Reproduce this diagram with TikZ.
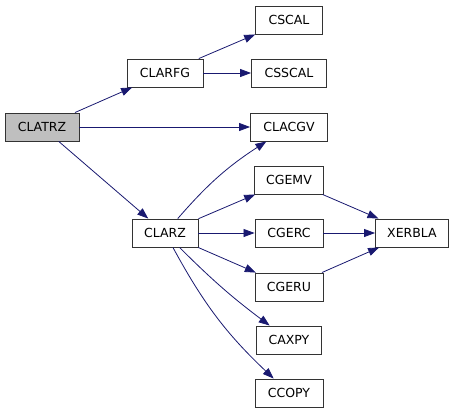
\documentclass[tikz,border=0pt]{standalone}
\usepackage{fontspec}
\setmainfont{DejaVu Sans}
\usetikzlibrary{arrows.meta}
\definecolor{edgeblue}{RGB}{25,25,112}
\definecolor{boxgray}{RGB}{191,191,191}
\tikzset{
  fn/.style={draw=black!80, line width=0.9pt, fill=white, minimum height=28pt, inner sep=0pt, font=\fontsize{12.5}{14}\selectfont},
  root/.style={fn, fill=boxgray},
  call/.style={draw=edgeblue, line width=0.8pt, -{Triangle[length=11pt,width=8pt]}}
}
\begin{document}
\begin{tikzpicture}[x=1pt,y=-1pt]
\useasboundingbox (0,0) rectangle (453,413);
\node[root, minimum width=74pt] (clatrz) at (42,127) {CLATRZ};
\node[fn, minimum width=76pt] (clarfg) at (165,73) {CLARFG};
\node[fn, minimum width=66pt] (clarz) at (165,233) {CLARZ};
\node[fn, minimum width=67pt] (cscal) at (289,20) {CSCAL};
\node[fn, minimum width=75pt] (csscal) at (289,73) {CSSCAL};
\node[fn, minimum width=77pt] (clacgv) at (289,127) {CLACGV};
\node[fn, minimum width=69pt] (cgemv) at (289,180) {CGEMV};
\node[fn, minimum width=68pt] (cgerc) at (289,233) {CGERC};
\node[fn, minimum width=68pt] (cgeru) at (289,287) {CGERU};
\node[fn, minimum width=65pt] (caxpy) at (289,340) {CAXPY};
\node[fn, minimum width=68pt] (ccopy) at (289,393) {CCOPY};
\node[fn, minimum width=73pt] (xerbla) at (412,233) {XERBLA};
\draw[call] (clatrz) -- (clarfg);
\draw[call] (clatrz) -- (clacgv);
\draw[call] (clatrz) -- (clarz);
\draw[call] (clarfg) -- (cscal);
\draw[call] (clarfg) -- (csscal);
\draw[call] (clarz) to[bend left=8] (clacgv);
\draw[call] (clarz) -- (cgemv);
\draw[call] (clarz) -- (cgerc);
\draw[call] (clarz) -- (cgeru);
\draw[call] (clarz) to[bend right=4] (caxpy);
\draw[call] (clarz) to[bend right=9] (ccopy);
\draw[call] (cgemv) -- (xerbla);
\draw[call] (cgerc) -- (xerbla);
\draw[call] (cgeru) -- (xerbla);
\end{tikzpicture}
\end{document}
